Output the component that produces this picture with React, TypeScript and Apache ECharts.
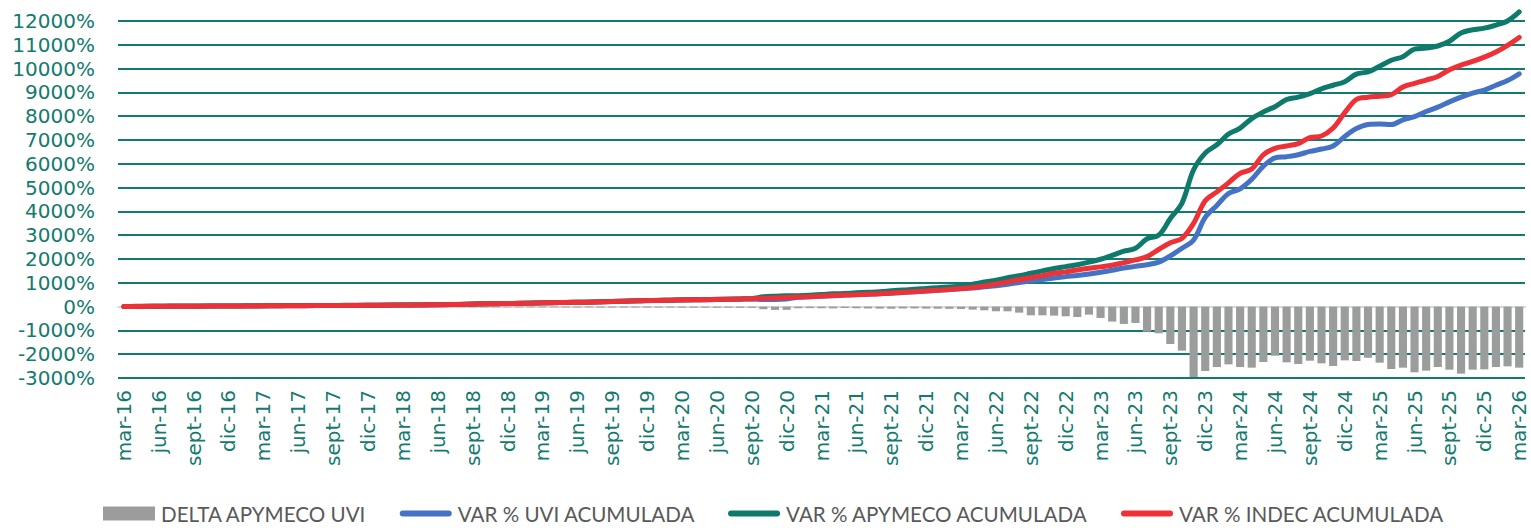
import React, { useEffect, useRef } from "react";
import * as echarts from "echarts";

const MONTH_NAMES = ["ene", "feb", "mar", "abr", "may", "jun", "jul", "ago", "sept", "oct", "nov", "dic"];
const START_MONTH = 2; // mar
const START_YEAR = 16;
const N_MONTHS = 121; // mar-16 .. mar-26

const categories: string[] = [];
for (let k = 0; k < N_MONTHS; k++) {
  const m = (START_MONTH + k) % 12;
  const y = START_YEAR + Math.floor((START_MONTH + k) / 12);
  categories.push(`${MONTH_NAMES[m]}-${y}`);
}

const deltaApymecoUvi = [
  -3, -5, -6, -8, -8, -10, -10, -9, -10, -12,
  -12, -13, -12, -14, -15, -15, -14, -16, -16, -18,
  -18, -20, -20, -18, -20, -22, -22, -24, -25, -25,
  -28, -30, -30, -28, -30, -32, -32, -30, -32, -35,
  -35, -38, -40, -40, -38, -42, -40, -40, -42, -45,
  -45, -48, -45, -50, -50, -110, -140, -135, -70, -65,
  -70, -75, -60, -70, -80, -85, -90, -80, -75, -85,
  -90, -95, -100, -127, -155, -197, -197, -254, -366, -366,
  -380, -408, -437, -338, -477, -631, -729, -687, -1052, -1122,
  -1571, -1851, -2957, -2705, -2540, -2427, -2540, -2566, -2330, -2064,
  -2343, -2413, -2273, -2385, -2497, -2260, -2287, -2148, -2357, -2622,
  -2566, -2761, -2692, -2538, -2650, -2817, -2650, -2636, -2538, -2510,
  -2566,
];

const varUviAcumulada = [
  0, 5, 9, 13, 15, 15, 16, 19, 21, 23,
  25, 27, 30, 34, 36, 37, 40, 42, 44, 47,
  49, 53, 56, 60, 64, 68, 72, 78, 84, 91,
  104, 115, 122, 127, 134, 143, 155, 163, 172, 179,
  185, 197, 213, 224, 238, 250, 258, 266, 278, 283,
  289, 297, 304, 314, 322, 300, 300, 320, 390, 413,
  438, 460, 483, 505, 520, 540, 560, 595, 620, 650,
  685, 715, 745, 780, 830, 880, 940, 1010, 1080, 1140,
  1200, 1260, 1310, 1370, 1440, 1530, 1620, 1690, 1760, 1870,
  2130, 2450, 2800, 3750, 4250, 4750, 4950, 5350, 5900, 6250,
  6300, 6380, 6520, 6620, 6750, 7150, 7480, 7650, 7670, 7650,
  7850, 7980, 8200, 8380, 8600, 8800, 8970, 9100, 9300, 9500,
  9780,
];

const varApymecoAcumulada = [
  0, 10, 14, 18, 20, 20, 21, 24, 26, 28,
  30, 32, 35, 39, 41, 42, 45, 47, 49, 52,
  54, 58, 61, 65, 69, 73, 77, 83, 89, 96,
  109, 120, 127, 132, 139, 148, 160, 168, 177, 184,
  190, 202, 219, 230, 244, 256, 264, 272, 284, 289,
  295, 304, 311, 323, 334, 410, 440, 455, 460, 478,
  508, 535, 553, 577, 600, 625, 665, 700, 725, 761,
  795, 825, 860, 940, 1030, 1110, 1210, 1300, 1400, 1500,
  1600, 1680, 1760, 1870, 1990, 2150, 2330, 2450, 2850, 3000,
  3700, 4350, 5750, 6450, 6800, 7250, 7500, 7900, 8180, 8400,
  8700, 8800, 8950, 9150, 9300, 9450, 9770, 9860, 10100, 10350,
  10500, 10820, 10860, 10950, 11150, 11500, 11630, 11700, 11830, 12000,
  12380,
];

const varIndecAcumulada = [
  0, 7, 11, 15, 17, 17, 18, 21, 23, 25,
  27, 29, 32, 36, 38, 39, 42, 44, 46, 49,
  51, 55, 58, 62, 66, 70, 74, 80, 86, 93,
  106, 117, 124, 129, 136, 145, 157, 165, 174, 181,
  187, 199, 216, 227, 241, 253, 261, 269, 281, 286,
  292, 301, 308, 320, 331, 348, 362, 380, 400, 418,
  443, 465, 483, 502, 520, 540, 570, 600, 625, 656,
  690, 720, 760, 800, 870, 950, 1040, 1130, 1210, 1300,
  1400, 1460, 1540, 1610, 1670, 1740, 1850, 1960, 2100, 2400,
  2680, 2870, 3500, 4450, 4820, 5200, 5600, 5780, 6380, 6650,
  6750, 6850, 7100, 7170, 7500, 8150, 8700, 8800, 8840, 8900,
  9230, 9380, 9520, 9670, 9950, 10150, 10300, 10480, 10700, 10980,
  11310,
];

const SERIES_NAMES = [
  "DELTA APYMECO UVI",
  "VAR % UVI ACUMULADA",
  "VAR % APYMECO ACUMULADA",
  "VAR % INDEC ACUMULADA",
];

const TEAL = "#137A6E";
const GRAY_BAR = "#9B9D9D";
const BLUE = "#4472C4";
const GREEN = "#0E7A6B";
const RED = "#EE3136";
const LINE_ICON = "path://M3,0 L49,0 A3,3 0 0 1 49,6 L3,6 A3,3 0 0 1 3,0 Z";

export default function App() {
  const ref = useRef<HTMLDivElement>(null);

  useEffect(() => {
    if (!ref.current) return;
    const chart = echarts.init(ref.current, undefined, { renderer: "svg" });
    const lineCommon = {
      type: "line" as const,
      xAxisIndex: 0,
      symbol: "none",
      smooth: 0.35,
      clip: false,
      lineStyle: { width: 5, cap: "round" as const, join: "round" as const },
    };
    chart.setOption({
      animation: false,
      backgroundColor: "#ffffff",
      grid: { left: 118, right: 6, top: 21, bottom: 150, containLabel: false },
      legend: {
        left: 103,
        top: 503,
        padding: 0,
        itemWidth: 52,
        itemHeight: 14,
        itemGap: 33,
        textStyle: { color: "#595959", fontFamily: "Lato", fontSize: 20.6, padding: [0, 0, 0, 1] },
        data: [
          { name: SERIES_NAMES[0], icon: "rect" },
          { name: SERIES_NAMES[1], icon: LINE_ICON },
          { name: SERIES_NAMES[2], icon: LINE_ICON },
          { name: SERIES_NAMES[3], icon: LINE_ICON },
        ],
      },
      xAxis: [
        {
          type: "category",
          data: categories,
          position: "top",
          boundaryGap: true,
          axisLine: { show: true, onZero: true, lineStyle: { color: "#D9D9D9", width: 2 } },
          axisTick: { show: false },
          axisLabel: { show: false },
          splitLine: { show: false },
        },
        {
          type: "category",
          data: categories,
          position: "bottom",
          boundaryGap: true,
          axisLine: { show: false, onZero: false },
          axisTick: { show: false },
          axisLabel: {
            show: true,
            rotate: 90,
            interval: 2,
            color: TEAL,
            fontFamily: "DejaVu Sans",
            fontSize: 20,
            margin: 12,
          },
          splitLine: { show: false },
        },
      ],
      yAxis: {
        type: "value",
        min: -3000,
        max: 12000,
        interval: 1000,
        axisLine: { show: false },
        axisTick: { show: false },
        axisLabel: {
          formatter: (v: number) => `${v}%`,
          color: TEAL,
          fontFamily: "DejaVu Sans",
          fontSize: 20,
          margin: 23,
        },
        splitLine: { show: true, lineStyle: { color: TEAL, width: 2 } },
      },
      series: [
        {
          name: SERIES_NAMES[0],
          type: "bar",
          xAxisIndex: 0,
          data: deltaApymecoUvi,
          barWidth: "70%",
          itemStyle: { color: GRAY_BAR },
        },
        { ...lineCommon, name: SERIES_NAMES[1], data: varUviAcumulada, itemStyle: { color: BLUE }, lineStyle: { ...lineCommon.lineStyle, color: BLUE } },
        { ...lineCommon, name: SERIES_NAMES[2], data: varApymecoAcumulada, itemStyle: { color: GREEN }, lineStyle: { ...lineCommon.lineStyle, color: GREEN } },
        { ...lineCommon, name: SERIES_NAMES[3], data: varIndecAcumulada, itemStyle: { color: RED }, lineStyle: { ...lineCommon.lineStyle, color: RED } },
      ],
    });
    return () => chart.dispose();
  }, []);

  return (
    <div
      ref={ref}
      style={{ position: "fixed", left: 0, top: 0, width: 1531, height: 528, background: "#fff" }}
    />
  );
}
